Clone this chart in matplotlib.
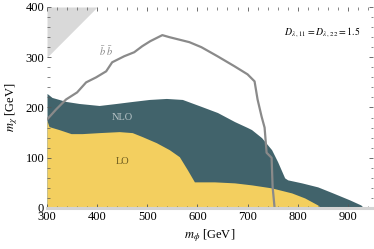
import numpy as np
import matplotlib
matplotlib.use('Agg')
import matplotlib.pyplot as plt
from matplotlib.ticker import MultipleLocator

plt.rcParams['font.family'] = ['Liberation Serif', 'DejaVu Serif']
plt.rcParams['mathtext.fontset'] = 'stix'

# NLO exclusion (upper edge)
nlo_x = [300, 310, 338, 364, 404, 438, 470, 504, 538, 570, 608, 640, 674, 700,
         708, 728, 748, 760, 774, 780, 808, 840, 870, 904, 926, 932]
nlo_y = [228, 220, 212, 208, 204, 208, 212, 216, 218, 216, 202, 190, 172, 160,
         156, 140, 116, 92, 60, 56, 50, 42, 30, 16, 6, 0]

# LO exclusion (upper edge)
lo_x = [300, 304, 324, 348, 370, 404, 444, 470, 490, 518, 544, 564, 580, 594,
        614, 634, 674, 708, 748, 788, 814, 840, 846]
lo_y = [174, 162, 156, 148, 148, 150, 152, 150, 142, 130, 116, 102, 76, 52,
        52, 52, 50, 46, 40, 30, 20, 6, 0]

# bbar bbar contour
bb_x = [300, 318, 338, 360, 378, 398, 418, 430, 454, 474, 490, 506, 530, 544,
        584, 608, 640, 674, 700, 714, 720, 728, 734, 738, 748, 750, 754]
bb_y = [176, 196, 216, 230, 250, 260, 272, 290, 302, 310, 322, 332, 344, 340,
        330, 320, 302, 282, 266, 252, 216, 182, 160, 110, 100, 42, 0]

# m_chi > m_phi region
tri_x = [300, 400]

teal = '#41636b'
yellow = '#f3cf5f'

fig = plt.figure(figsize=(3.74, 2.49), dpi=100)
ax = fig.add_axes([0.1257, 0.1647, 0.8713, 0.8072])

ax.fill_between(tri_x, tri_x, 400, color='#d9d9d9', lw=0)
ax.fill_between(nlo_x, 0, nlo_y, color=teal, lw=0)
ax.fill_between(lo_x, 0, lo_y, color=yellow, lw=0)
ax.plot(bb_x, bb_y, color='#8a8a8a', lw=1.6)

ax.text(450, 180, 'NLO', color='#b9c5c8', fontsize=7.5, ha='center', va='center')
ax.text(450, 92, 'LO', color='#6b5a1e', fontsize=7.5, ha='center', va='center')
ax.text(418, 312, r'$\bar{b}\ \bar{b}$', color='#8a8a8a', fontsize=7.5,
        ha='center', va='center')
ax.text(848, 350, r'$D_{\lambda\,,\,11}=D_{\lambda\,,\,22}=1.5$', fontsize=7,
        ha='center', va='center')

ax.set_xlim(300, 950)
ax.set_ylim(0, 400)
ax.set_xticks([300, 400, 500, 600, 700, 800, 900])
ax.set_yticks([0, 100, 200, 300, 400])
ax.xaxis.set_minor_locator(MultipleLocator(20))
ax.yaxis.set_minor_locator(MultipleLocator(20))
ax.tick_params(which='both', direction='in', top=True, right=True,
               color='#555555', labelsize=9, pad=2)
ax.tick_params(which='major', length=3, width=0.6)
ax.tick_params(which='minor', length=1.8, width=0.5)

for s in ['left', 'top', 'right']:
    ax.spines[s].set_visible(False)
ax.spines['bottom'].set_color('#d4d4d4')
ax.spines['bottom'].set_linewidth(2.2)

ax.set_xlabel(r'$m_\phi$ [GeV]', fontsize=9, labelpad=3)
ax.set_ylabel(r'$m_\chi$ [GeV]', fontsize=9, labelpad=4)

fig.savefig('out.png', dpi=100)
